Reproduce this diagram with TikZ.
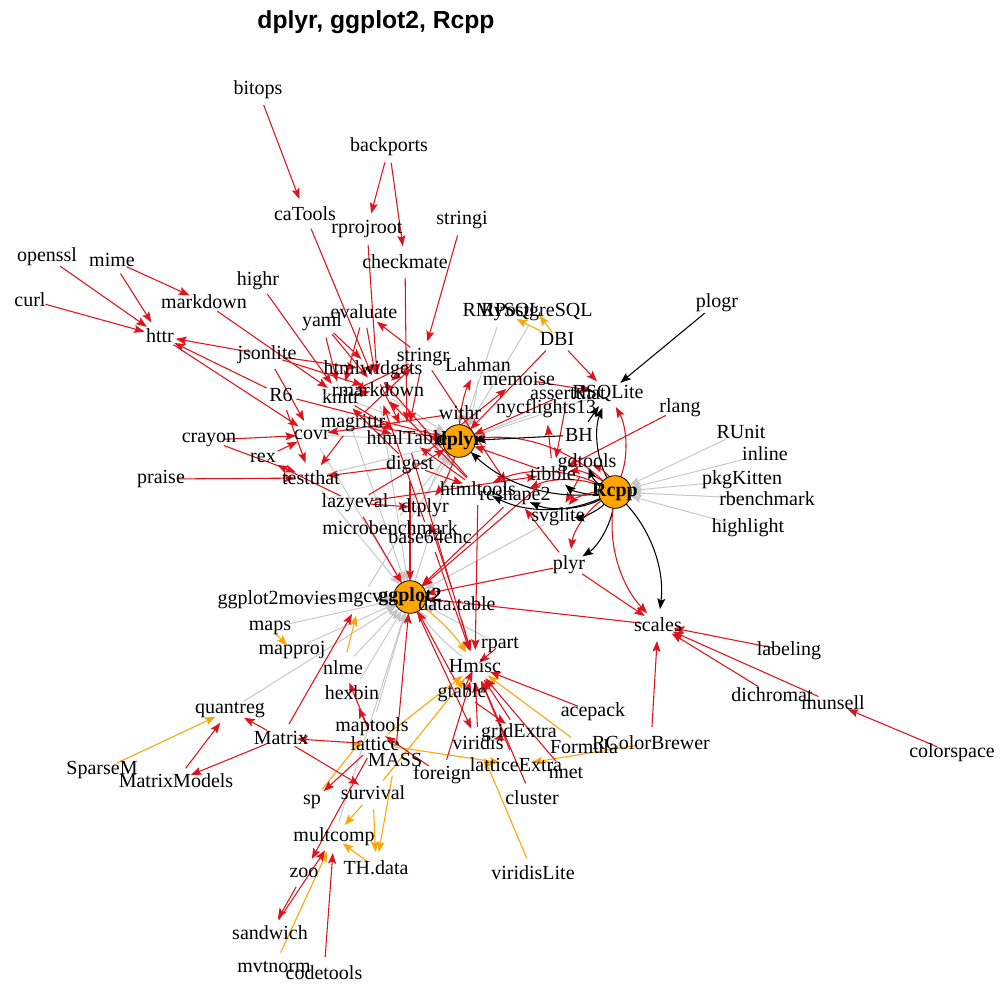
\documentclass[tikz,border=0pt]{standalone}
\usepackage{fontspec}
\setmainfont{Liberation Serif}
\setsansfont{Liberation Sans}
\usetikzlibrary{arrows.meta,backgrounds}
\definecolor{edred}{RGB}{222,20,28}
\definecolor{edorange}{RGB}{255,165,0}
\definecolor{edgray}{RGB}{198,198,198}
\definecolor{hubfill}{RGB}{255,165,0}
\newcommand\lblsize{\fontsize{15}{18}\selectfont}
\newcommand\mylnk[3]{\draw[#1] (#2.center) -- (#3.center);}
\newcommand\mybnd[4]{\draw[#1] (#3.center) to[#2] (#4.center);}
\tikzset{
 lbl/.style={font=\lblsize, inner sep=0pt, text=black},
 hub/.style={circle, draw=black, fill=hubfill, minimum size=24.5pt, inner sep=0pt, line width=0.6pt},
 hubtxt/.style={font=\lblsize\bfseries, inner sep=0pt},
 conn/.style={shorten <=12pt, shorten >=12pt, -{Stealth[length=8pt,width=6pt,inset=1.5pt]}},
 rd/.style={conn, draw=edred, line width=0.8pt},
 og/.style={conn, draw=edorange, line width=0.8pt},
 gy/.style={conn, draw=edgray, line width=0.7pt},
 bk/.style={conn, draw=black, line width=0.8pt},
 sh/.style={shorten <=#1, shorten >=#1},
}
\begin{document}
\begin{tikzpicture}[x=0.75pt,y=-0.75pt]
\useasboundingbox (0,0) rectangle (1006,983);
% title
\node[font=\sffamily\bfseries\fontsize{18.5}{22}\selectfont, inner sep=0pt] (title) at (376,22) {dplyr, ggplot2, Rcpp};
% hubs
\node[hub] (dplyr) at (459,441) {};
\node[hub] (ggplot2) at (410,597) {};
\node[hub] (Rcpp) at (615,492) {};
% labels
\node[lbl] (bitops) at (258,90) {bitops};
\node[lbl] (backports) at (389,147) {backports};
\node[lbl] (caTools) at (305,214) {caTools};
\node[lbl] (rprojroot) at (367,229) {rprojroot};
\node[lbl] (stringi) at (462,220) {stringi};
\node[lbl] (checkmate) at (405,262) {checkmate};
\node[lbl] (openssl) at (47,257) {openssl};
\node[lbl] (mime) at (112,260) {mime};
\node[lbl] (curl) at (30,300) {curl};
\node[lbl] (markdown) at (204,302) {markdown};
\node[lbl] (highr) at (258,281) {highr};
\node[lbl] (httr) at (160,336) {httr};
\node[lbl] (yaml) at (322,322) {yaml};
\node[lbl] (evaluate) at (364,312) {evaluate};
\node[lbl] (jsonlite) at (267,355) {jsonlite};
\node[lbl] (htmlwidgets) at (373,370) {htmlwidgets};
\node[lbl] (stringr) at (423,357) {stringr};
\node[lbl] (Lahman) at (478,365) {Lahman};
\node[lbl] (RMySQL) at (502,312) {RMySQL};
\node[lbl] (RPostgreSQL) at (537,312) {RPostgreSQL};
\node[lbl] (DBI) at (557,339) {DBI};
\node[lbl] (plogr) at (717,303) {plogr};
\node[lbl] (memoise) at (519,379) {memoise};
\node[lbl] (rmarkdown) at (378,390) {rmarkdown};
\node[lbl] (knitr) at (341,397) {knitr};
\node[lbl] (R6) at (281,395) {R6};
\node[lbl] (assertthat) at (568,393) {assertthat};
\node[lbl] (RSQLite) at (608,393) {RSQLite};
\node[lbl] (nycflights13) at (546,409) {nycflights13};
\node[lbl] (rlang) at (680,408) {rlang};
\node[lbl] (magrittr) at (353,423) {magrittr};
\node[lbl] (withr) at (460,413) {withr};
\node[lbl] (RUnit) at (741,432) {RUnit};
\node[lbl] (crayon) at (209,440) {crayon};
\node[lbl] (covr) at (312,435) {covr};
\node[lbl] (htmlTable) at (407,438) {htmlTable};
\node[lbl] (BH) at (579,435) {BH};
\node[lbl] (inline) at (765,454) {inline};
\node[lbl] (gdtools) at (587,463) {gdtools};
\node[lbl] (rex) at (263,458) {rex};
\node[lbl] (digest) at (410,465) {digest};
\node[lbl] (praise) at (161,479) {praise};
\node[lbl] (testthat) at (311,478) {testthat};
\node[lbl] (tibble) at (553,474) {tibble};
\node[lbl] (htmltools) at (478,489) {htmltools};
\node[lbl] (reshape2) at (515,496) {reshape2};
\node[lbl] (pkgKitten) at (742,480) {pkgKitten};
\node[lbl] (rbenchmark) at (767,499) {rbenchmark};
\node[lbl] (lazyeval) at (355,503) {lazyeval};
\node[lbl] (dtplyr) at (425,508) {dtplyr};
\node[lbl] (svglite) at (558,517) {svglite};
\node[lbl] (highlight) at (748,528) {highlight};
\node[lbl] (microbenchmark) at (390,528) {microbenchmark};
\node[lbl] (base64enc) at (430,537) {base64enc};
\node[lbl] (plyr) at (569,565) {plyr};
\node[lbl] (ggplot2movies) at (277,600) {ggplot2movies};
\node[lbl] (mgcv) at (360,600) {mgcv};
\node[lbl] (datatable) at (457,604) {data.table};
\node[lbl] (scales) at (658,625) {scales};
\node[lbl] (maps) at (270,628) {maps};
\node[lbl] (mapproj) at (292,650) {mapproj};
\node[lbl] (rpart) at (500,645) {rpart};
\node[lbl] (nlme) at (343,668) {nlme};
\node[lbl] (Hmisc) at (475,666) {Hmisc};
\node[lbl] (labeling) at (789,651) {labeling};
\node[lbl] (hexbin) at (352,693) {hexbin};
\node[lbl] (gtable) at (462,693) {gtable};
\node[lbl] (dichromat) at (772,695) {dichromat};
\node[lbl] (munsell) at (833,703) {munsell};
\node[lbl] (acepack) at (593,712) {acepack};
\node[lbl] (quantreg) at (230,710) {quantreg};
\node[lbl] (maptools) at (372,727) {maptools};
\node[lbl] (gridExtra) at (519,733) {gridExtra};
\node[lbl] (viridis) at (478,743) {viridis};
\node[lbl] (Formula) at (584,747) {Formula};
\node[lbl] (RColorBrewer) at (651,743) {RColorBrewer};
\node[lbl] (Matrix) at (281,738) {Matrix};
\node[lbl] (lattice) at (375,744) {lattice};
\node[lbl] (MASS) at (395,760) {MASS};
\node[lbl] (latticeExtra) at (516,765) {latticeExtra};
\node[lbl] (nnet) at (566,773) {nnet};
\node[lbl] (SparseM) at (102,770) {SparseM};
\node[lbl] (MatrixModels) at (176,781) {MatrixModels};
\node[lbl] (foreign) at (442,775) {foreign};
\node[lbl] (colorspace) at (952,753) {colorspace};
\node[lbl] (sp) at (312,802) {sp};
\node[lbl] (survival) at (373,793) {survival};
\node[lbl] (cluster) at (532,798) {cluster};
\node[lbl] (multcomp) at (334,837) {multcomp};
\node[lbl] (THdata) at (376,868) {TH.data};
\node[lbl] (viridisLite) at (533,873) {viridisLite};
\node[lbl] (zoo) at (304,873) {zoo};
\node[lbl] (sandwich) at (270,933) {sandwich};
\node[lbl] (mvtnorm) at (274,967) {mvtnorm};
\node[lbl] (codetools) at (324,973) {codetools};
% hub labels
\node[hubtxt] (dplyrT) at (dplyr) {dplyr};
\node[hubtxt] (ggplot2T) at (ggplot2) {ggplot2};
\node[hubtxt] (RcppT) at (Rcpp) {Rcpp};

\begin{scope}[on background layer]
\fill[white] (0,0) rectangle (1006,983);
% ---- gray: suggests of the hubs
\foreach \s in {RSQLite,RMySQL,RPostgreSQL,testthat,knitr,microbenchmark,ggplot2,mgcv,nycflights13,rmarkdown,covr}
  {\mylnk{gy}{\s}{dplyr}}
\mylnk{gy,shorten <=1pt}{withr}{dplyr}
\mybnd{gy}{bend left=12}{Lahman}{dplyr}
\mybnd{gy}{bend left=12}{dtplyr}{dplyr}
\foreach \s in {covr,ggplot2movies,hexbin,mapproj,maps,maptools,mgcv,multcomp,nlme,testthat,quantreg,knitr,rpart,rmarkdown,svglite}
  {\mylnk{gy}{\s}{ggplot2}}
\mybnd{gy}{bend left=10}{Hmisc}{ggplot2}
\foreach \s in {RUnit,inline,rbenchmark,highlight,pkgKitten}
  {\mylnk{gy}{\s}{Rcpp}}
% ---- orange
\mylnk{og}{lattice}{Hmisc}
\mylnk{og}{survival}{Hmisc}
\mylnk{og}{Formula}{Hmisc}
\mybnd{og}{bend left=10}{ggplot2}{Hmisc}
\mylnk{og}{viridisLite}{viridis}
\mylnk{og}{lattice}{latticeExtra}
\mylnk{og}{RColorBrewer}{latticeExtra}
\mylnk{og}{mvtnorm}{multcomp}
\mylnk{og}{survival}{multcomp}
\mylnk{og,sh=8pt}{THdata}{multcomp}
\mylnk{og}{survival}{THdata}
\mylnk{og}{MASS}{THdata}
\mylnk{og}{SparseM}{quantreg}
\mylnk{og}{sp}{maptools}
\mylnk{og}{nlme}{mgcv}
\mylnk{og,sh=5pt}{maps}{mapproj}
\mylnk{og}{DBI}{RMySQL}
\mylnk{og,shorten <=6pt,shorten >=3pt}{DBI}{RPostgreSQL}
% ---- red
\mylnk{rd}{bitops}{caTools}
\mylnk{rd}{backports}{rprojroot}
\mylnk{rd}{backports}{checkmate}
\mylnk{rd}{stringi}{stringr}
\mylnk{rd}{magrittr}{stringr}
\foreach \s in {caTools,rprojroot,yaml,evaluate,htmltools,base64enc,jsonlite,stringr}
  {\mylnk{rd}{\s}{rmarkdown}}
\mylnk{rd,sh=6pt}{knitr}{rmarkdown}
\foreach \s in {evaluate,digest,highr,markdown,stringr,yaml}
  {\mylnk{rd}{\s}{knitr}}
\mylnk{rd}{mime}{markdown}
\foreach \s in {jsonlite,mime,curl,openssl,R6}
  {\mylnk{rd}{\s}{httr}}
\foreach \s in {htmltools,jsonlite,yaml}
  {\mylnk{rd}{\s}{htmlwidgets}}
\foreach \s in {stringr,knitr,magrittr,checkmate,htmlwidgets,htmltools}
  {\mylnk{rd}{\s}{htmlTable}}
\foreach \s in {latticeExtra,cluster,nnet,acepack,foreign,gridExtra,datatable,htmlTable,viridis,htmltools,base64enc}
  {\mylnk{rd}{\s}{Hmisc}}
\mylnk{rd,sh=4pt}{rpart}{Hmisc}
\mylnk{rd,sh=4pt}{gtable}{Hmisc}
\foreach \s in {digest,gtable,MASS,plyr,reshape2,scales,tibble,lazyeval}
  {\mylnk{rd}{\s}{ggplot2}}
\foreach \s in {assertthat,R6,tibble,magrittr,lazyeval,DBI}
  {\mylnk{rd}{\s}{dplyr}}
\foreach \s in {assertthat,lazyeval,rlang}
  {\mylnk{rd}{\s}{tibble}}
\mylnk{rd}{plyr}{reshape2}
\mylnk{rd}{stringr}{reshape2}
\mylnk{rd}{DBI}{RSQLite}
\mylnk{rd}{memoise}{RSQLite}
\foreach \s in {RColorBrewer,dichromat,plyr,munsell,labeling}
  {\mylnk{rd}{\s}{scales}}
\mylnk{rd}{gdtools}{svglite}
\mylnk{rd}{digest}{htmltools}
\mybnd{rd}{bend left=12}{dplyr}{dtplyr}
\mylnk{rd}{datatable}{dtplyr}
\mylnk{rd}{lazyeval}{dtplyr}
\foreach \s in {digest,crayon,praise,magrittr,R6}
  {\mylnk{rd}{\s}{testthat}}
\foreach \s in {jsonlite,rex,httr,crayon,withr}
  {\mylnk{rd}{\s}{covr}}
\mylnk{rd}{lazyeval}{rex}
\mylnk{rd}{digest}{memoise}
\mylnk{rd}{stringr}{evaluate}
\mylnk{rd}{gtable}{gridExtra}
\mylnk{rd}{ggplot2}{viridis}
\mylnk{rd}{gridExtra}{viridis}
\mylnk{rd}{sandwich}{multcomp}
\mylnk{rd}{codetools}{multcomp}
\mylnk{rd}{zoo}{sandwich}
\mylnk{rd}{lattice}{zoo}
\mylnk{rd}{Matrix}{survival}
\mylnk{rd}{lattice}{Matrix}
\mylnk{rd}{Matrix}{quantreg}
\mylnk{rd}{MatrixModels}{quantreg}
\mylnk{rd}{Matrix}{MatrixModels}
\mylnk{rd}{lattice}{sp}
\mylnk{rd}{foreign}{maptools}
\mylnk{rd}{lattice}{hexbin}
\mylnk{rd}{lattice}{nlme}
\mylnk{rd}{Matrix}{mgcv}
\mylnk{rd}{colorspace}{munsell}
\mylnk{rd}{tibble}{nycflights13}
\mybnd{rd}{bend left=12}{dplyr}{Lahman}
% ---- Rcpp: imports (red) and linking (black), curved pairs
\foreach \t in {dplyr,tibble,reshape2,RSQLite,plyr,scales,svglite,htmltools}{
  \mybnd{rd}{bend right=25}{Rcpp}{\t}
  \mybnd{bk}{bend left=25}{Rcpp}{\t}
}
\mybnd{rd,shorten >=4pt}{bend right=25}{Rcpp}{gdtools}
\mybnd{bk,shorten >=4pt}{bend left=25}{Rcpp}{gdtools}
% ---- black: other linking
\mylnk{bk}{BH}{dplyr}
\mylnk{bk}{BH}{RSQLite}
\mylnk{bk}{plogr}{RSQLite}
\end{scope}
\end{tikzpicture}
\end{document}
